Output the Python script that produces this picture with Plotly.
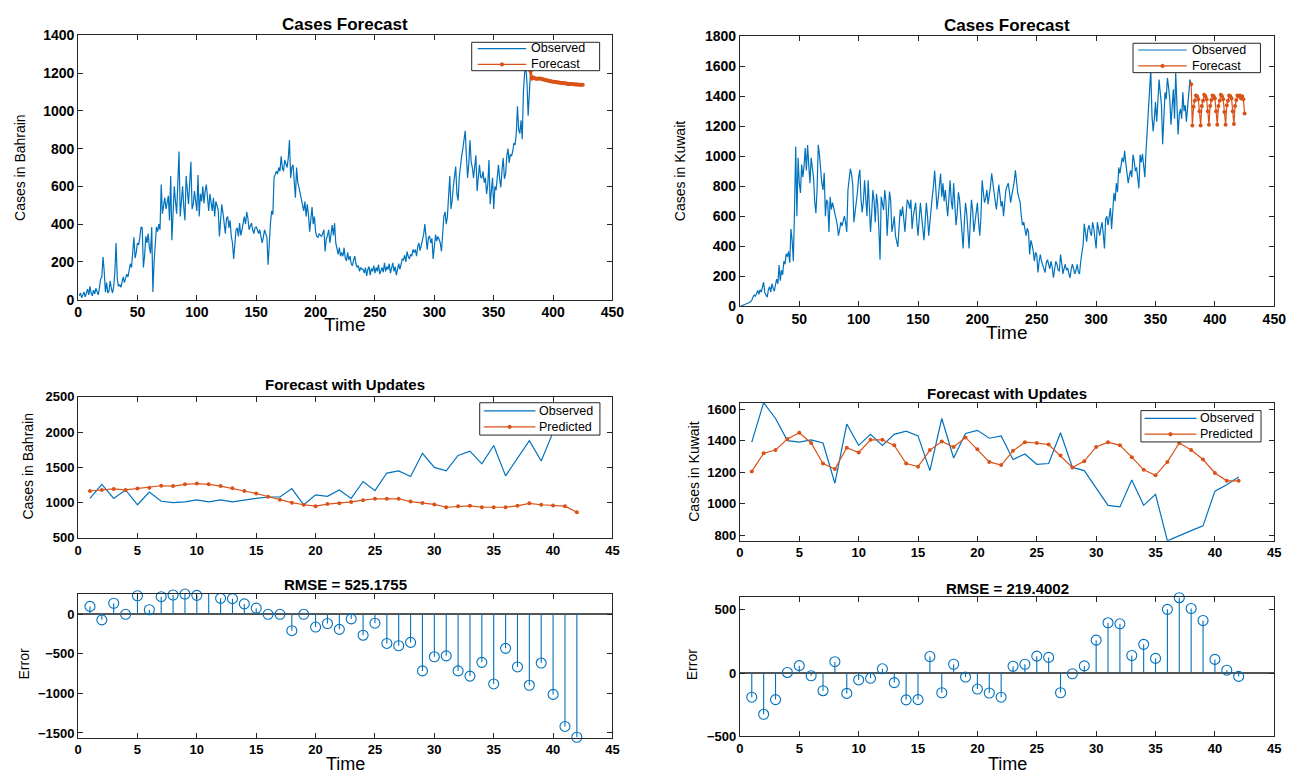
import plotly.graph_objects as go

# ---------------- data ----------------
bahrain_obs = [
    20, 35, 10, 25, 40, 15, 30, 55, 25, 70,
    35, 20, 50, 30, 60, 45, 25, 65, 110, 120,
    225, 150, 40, 90, 35, 45, 100, 60, 35, 70,
    150, 300, 110, 70, 80, 65, 100, 120, 90, 110,
    135, 120, 160, 190, 170, 265, 330, 220, 250, 300,
    290, 330, 385, 380, 170, 230, 335, 300, 350, 280,
    245, 385, 40, 200, 300, 385, 360, 400, 370, 610,
    455, 500, 540, 480, 520, 550, 420, 655, 315, 500,
    600, 520, 455, 620, 785, 440, 520, 600, 490, 420,
    655, 560, 505, 620, 730, 480, 505, 575, 520, 470,
    660, 440, 560, 520, 600, 510, 575, 610, 540, 470,
    560, 505, 470, 540, 440, 520, 500, 475, 335, 430,
    505, 460, 405, 350, 430, 440, 380, 420, 335, 300,
    215, 320, 370, 380, 335, 405, 340, 370, 420, 440,
    400, 465, 430, 370, 390, 405, 370, 350, 380, 385,
    370, 350, 370, 340, 300, 330, 370, 350, 330, 185,
    330, 405, 470, 450, 645, 660, 680, 665, 700, 680,
    760, 700, 680, 740, 725, 700, 750, 845, 645, 700,
    715, 620, 540, 700, 620, 595, 560, 540, 505, 470,
    520, 440, 505, 450, 360, 420, 490, 400, 440, 360,
    335, 330, 350, 340, 335, 350, 370, 255, 320, 340,
    370, 300, 360, 395, 340, 405, 300, 265, 240, 275,
    230, 250, 230, 275, 220, 205, 250, 210, 230, 190,
    180, 210, 230, 190, 170, 180, 150, 170, 160, 160,
    140, 170, 125, 160, 175, 130, 165, 150, 180, 140,
    170, 150, 185, 135, 160, 170, 145, 195, 150, 175,
    160, 190, 140, 175, 195, 150, 175, 130, 165, 190,
    160, 195, 215, 210, 235, 200, 255, 230, 215, 240,
    230, 265, 250, 265, 230, 280, 300, 260, 290, 320,
    345, 400, 315, 265, 330, 335, 300, 325, 215, 290,
    345, 310, 335, 320, 300, 255, 385, 440, 465, 400,
    440, 575, 655, 480, 525, 600, 655, 705, 560, 525,
    650, 730, 760, 800, 850, 895, 760, 645, 720, 845,
    730, 700, 645, 700, 765, 575, 640, 715, 650, 645,
    680, 620, 645, 560, 610, 740, 505, 600, 645, 480,
    600, 580, 650, 715, 640, 595, 690, 750, 640, 665,
    760, 800, 725, 770, 760, 785, 830, 820, 880, 1025,
    900, 880, 950, 850, 1100, 1200, 1235, 1150, 975, 1110, 1210,
]
bahrain_fc = [
    1210, 1170, 1178, 1175, 1172, 1170, 1170, 1172, 1172, 1170,
    1168, 1166, 1165, 1163, 1162, 1160, 1158, 1157, 1156, 1155,
    1154, 1153, 1152, 1151, 1150, 1149, 1148, 1147, 1146, 1146,
    1145, 1144, 1143, 1143, 1142, 1142, 1141, 1141, 1140, 1140,
    1140, 1139, 1139, 1139, 1138,
]
bahrain_fc_start = 381

kuwait_obs = [
    2, 5, 8, 10, 12, 15, 20, 25, 30, 40,
    60, 75, 65, 90, 105, 80, 110, 95, 125, 160,
    90, 75, 60, 110, 130, 95, 150, 120, 100, 145,
    180, 150, 275, 170, 240, 210, 300, 280, 350, 330,
    365, 290, 515, 440, 300, 645, 1065, 600, 990, 820,
    755, 945, 860, 930, 1055, 905, 1075, 940, 820, 990,
    900, 860, 700, 620, 775, 1075, 1010, 900, 820, 775,
    890, 600, 710, 690, 495, 730, 645, 690, 660, 620,
    580, 540, 470, 510, 560, 535, 570, 600, 560, 495,
    775, 850, 915, 880, 815, 560, 620, 690, 760, 860,
    910, 710, 625, 700, 840, 720, 600, 840, 650, 495,
    620, 775, 700, 560, 750, 680, 520, 310, 730, 680,
    640, 775, 700, 470, 620, 765, 700, 495, 540, 600,
    470, 440, 395, 520, 645, 600, 665, 580, 495, 620,
    710, 690, 650, 710, 515, 600, 640, 690, 560, 470,
    580, 690, 600, 520, 440, 560, 690, 600, 470, 560,
    680, 730, 800, 905, 780, 645, 720, 800, 885, 730,
    820, 700, 775, 680, 600, 720, 840, 700, 645, 820,
    700, 540, 620, 760, 710, 600, 470, 385, 560, 690,
    620, 520, 385, 560, 710, 640, 495, 560, 620, 690,
    560, 470, 600, 840, 760, 690, 720, 775, 680, 730,
    800, 885, 820, 730, 700, 645, 740, 810, 740, 665,
    700, 600, 690, 775, 800, 820, 760, 690, 740, 785,
    830, 905, 820, 755, 720, 690, 600, 540, 560, 500,
    470, 520, 495, 345, 440, 410, 370, 300, 360, 340,
    225, 300, 345, 300, 280, 250, 225, 290, 310, 280,
    250, 300, 260, 190, 250, 300, 280, 240, 235, 345,
    290, 215, 250, 280, 240, 255, 220, 190, 245, 280,
    250, 215, 240, 280, 230, 215, 300, 365, 410, 550,
    480, 430, 510, 540, 495, 470, 560, 520, 450, 385,
    560, 520, 470, 520, 560, 480, 385, 580, 600, 540,
    620, 655, 515, 640, 755, 700, 820, 760, 925, 885,
    950, 990, 960, 1035, 950, 900, 820, 870, 905, 860,
    1010, 970, 900, 925, 870, 785, 1010, 960, 1015, 930,
    860, 1035, 1165, 1360, 1450, 1575, 1270, 1165, 1250, 1360,
    1230, 1400, 1510, 1420, 1340, 1080, 1300, 1425, 1380, 1520,
    1460, 1380, 1210, 1350, 1445, 1250, 1555, 1350, 1145, 1280,
    1315, 1250, 1425, 1300, 1340, 1230, 1320, 1400, 1510, 1480,
]
kuwait_fc = [
    1480,
    1205, 1330, 1370, 1405, 1400, 1380, 1300,
    1205, 1335, 1370, 1410, 1400, 1380, 1300,
    1210, 1335, 1375, 1405, 1400, 1385, 1300,
    1210, 1335, 1370, 1410, 1400, 1380, 1295,
    1210, 1340, 1370, 1405, 1400, 1385, 1300,
    1215, 1335, 1375, 1405, 1400, 1405, 1385,
    1400, 1380, 1285,
]
kuwait_fc_start = 380

steps = list(range(1, 43))
bahrain_upd_obs = [1060, 1260, 1060, 1180, 970, 1150, 1020, 1000, 1010, 1040,
                   1010, 1040, 1010, 1040, 1060, 1080, 1080, 1200, 970, 1110,
                   1090, 1180, 1060, 1300, 1170, 1420, 1450, 1370, 1700, 1500,
                   1450, 1670, 1730, 1550, 1810, 1380, 1630, 1880, 1590, 2000,
                   2350, 2400]
bahrain_upd_pred = [1165, 1180, 1195, 1180, 1200, 1210, 1240, 1235, 1260, 1270,
                    1260, 1235, 1205, 1165, 1130, 1085, 1040, 1000, 970, 950,
                    980, 990, 1010, 1035, 1055, 1055, 1055, 1015, 995, 975,
                    935, 950, 955, 935, 935, 935, 955, 990, 970, 960,
                    950, 865]
bahrain_err = [100, -70, 140, 0, 235, 58, 223, 244, 256, 240,
               264, 202, 198, 132, 78, 0, 0, -207, 0, -161,
               -116, -190, -58, -264, -112, -368, -397, -355, -715, -537,
               -525, -715, -781, -607, -880, -430, -665, -897, -616, -1012,
               -1417, -1554]

kuwait_upd_obs = [1390, 1640, 1540, 1400, 1390, 1405, 1385, 1130, 1505, 1370,
                  1440, 1370, 1440, 1460, 1430, 1210, 1540, 1290, 1445, 1465,
                  1415, 1430, 1280, 1315, 1250, 1255, 1450, 1230, 1210, 1100,
                  990, 980, 1150, 990, 1060, 765, 800, 830, 860, 1080,
                  1120, 1170]
kuwait_upd_pred = [1205, 1320, 1340, 1410, 1450, 1385, 1255, 1220, 1355, 1325,
                   1405, 1405, 1370, 1255, 1235, 1340, 1395, 1360, 1420, 1345,
                   1265, 1245, 1335, 1390, 1385, 1375, 1305, 1230, 1270, 1360,
                   1390, 1370, 1295, 1215, 1180, 1265, 1385, 1340, 1280, 1195,
                   1145, 1145]
kuwait_err = [-190, -325, -209, 5, 59, -21, -139, 90, -160, -54,
              -41, 34, -75, -211, -209, 131, -155, 70, -31, -126,
              -157, -190, 54, 70, 134, 124, -155, -5, 57, 260,
              397, 389, 139, 227, 116, 503, 595, 510, 415, 108,
              23, -26]

rmse_bahrain = "525.1755"
rmse_kuwait = "219.4002"

# ---------------- layout helpers ----------------
W, H = 1309, 781


def X(px):
    return px / W


def Y(py):
    return 1 - py / H


BLUE = '#0072BD'
ORANGE = '#D95319'
AXC = '#262626'
FONT = 'Liberation Sans, Arial, Helvetica, sans-serif'

fig = go.Figure()

# top-left
fig.add_trace(go.Scatter(x=list(range(1, len(bahrain_obs) + 1)), y=bahrain_obs,
                         mode='lines', line=dict(color=BLUE, width=1.2),
                         name='Observed', xaxis='x', yaxis='y'))
fig.add_trace(go.Scatter(x=list(range(bahrain_fc_start, bahrain_fc_start + len(bahrain_fc))), y=bahrain_fc,
                         mode='lines+markers', line=dict(color=ORANGE, width=2.6),
                         marker=dict(size=4, color=ORANGE),
                         name='Forecast', xaxis='x', yaxis='y'))
# top-right
fig.add_trace(go.Scatter(x=list(range(1, len(kuwait_obs) + 1)), y=kuwait_obs,
                         mode='lines', line=dict(color=BLUE, width=1.2),
                         name='Observed', xaxis='x2', yaxis='y2'))
fig.add_trace(go.Scatter(x=list(range(kuwait_fc_start, kuwait_fc_start + len(kuwait_fc))), y=kuwait_fc,
                         mode='lines+markers', line=dict(color=ORANGE, width=1.2),
                         marker=dict(size=4, color=ORANGE),
                         name='Forecast', xaxis='x2', yaxis='y2'))
# middle-left
fig.add_trace(go.Scatter(x=steps, y=bahrain_upd_obs, mode='lines',
                         line=dict(color=BLUE, width=1.2), name='Observed',
                         xaxis='x3', yaxis='y3'))
fig.add_trace(go.Scatter(x=steps, y=bahrain_upd_pred, mode='lines+markers',
                         line=dict(color=ORANGE, width=1.2),
                         marker=dict(size=4, color=ORANGE), name='Predicted',
                         xaxis='x3', yaxis='y3'))
# middle-right
fig.add_trace(go.Scatter(x=steps, y=kuwait_upd_obs, mode='lines',
                         line=dict(color=BLUE, width=1.2), name='Observed',
                         xaxis='x4', yaxis='y4'))
fig.add_trace(go.Scatter(x=steps, y=kuwait_upd_pred, mode='lines+markers',
                         line=dict(color=ORANGE, width=1.2),
                         marker=dict(size=4, color=ORANGE), name='Predicted',
                         xaxis='x4', yaxis='y4'))


def stem(err, xa, ya):
    sx, sy = [], []
    for t, e in zip(steps, err):
        sx += [t, t, None]
        sy += [0, e, None]
    fig.add_trace(go.Scatter(x=sx, y=sy, mode='lines',
                             line=dict(color=BLUE, width=1.1),
                             xaxis=xa, yaxis=ya, hoverinfo='skip', name='Error'))
    fig.add_trace(go.Scatter(x=steps, y=err, mode='markers',
                             marker=dict(symbol='circle-open', size=10,
                                         color=BLUE, line=dict(width=1.1)),
                             cliponaxis=False, xaxis=xa, yaxis=ya, name='Error'))


stem(bahrain_err, 'x5', 'y5')
stem(kuwait_err, 'x6', 'y6')


def xaxis(dom, rng, dtick, anchor, fs):
    return dict(domain=dom, range=rng, dtick=dtick, tick0=0, anchor=anchor,
                showline=True, linecolor=AXC, linewidth=1, mirror='ticks',
                ticks='inside', ticklen=5, tickcolor=AXC, showgrid=False,
                zeroline=False,
                tickfont=dict(family=FONT, size=fs, color='black', weight='bold'))


def yaxis(dom, rng, dtick, anchor, fs, zl=False):
    return dict(domain=dom, range=rng, dtick=dtick, tick0=0, anchor=anchor,
                showline=True, linecolor=AXC, linewidth=1, mirror='ticks',
                ticks='inside', ticklen=5, tickcolor=AXC, showgrid=False,
                zeroline=zl, zerolinecolor='#555555', zerolinewidth=1.5,
                tickfont=dict(family=FONT, size=fs, color='black', weight='bold'))


LX = [X(75), X(616)]
RX = [X(745), X(1286)]

layout = dict(
    width=W, height=H, margin=dict(l=0, r=0, t=0, b=0),
    paper_bgcolor='white', plot_bgcolor='white', showlegend=False,
    font=dict(family=FONT, color='black'),
    xaxis=xaxis(LX, [0, 450], 50, 'y', 14),
    yaxis=yaxis([Y(297.7), Y(28)], [0, 1400], 200, 'x', 14),
    xaxis2=xaxis(RX, [0, 450], 50, 'y2', 14),
    yaxis2=yaxis([Y(304.5), Y(28.7)], [0, 1800], 200, 'x2', 14),
    xaxis3=xaxis(LX, [0, 45], 5, 'y3', 13),
    yaxis3=yaxis([Y(541), Y(397)], [500, 2500], 500, 'x3', 13),
    xaxis4=xaxis(RX, [0, 45], 5, 'y4', 13),
    yaxis4=yaxis([Y(544), Y(403.3)], [765, 1638], 200, 'x4', 13),
    xaxis5=xaxis(LX, [0, 45], 5, 'y5', 13),
    yaxis5=yaxis([Y(745), Y(598)], [-1560, 260], 500, 'x5', 13, zl=True),
    xaxis6=xaxis(RX, [0, 45], 5, 'y6', 13),
    yaxis6=yaxis([Y(743.7), Y(601.4)], [-500, 600], 500, 'x6', 13, zl=True),
)

annotations = []
shapes = []


def text(s, x, y, size, bold=False, angle=0, xanchor='center'):
    annotations.append(dict(text=('<b>%s</b>' % s) if bold else s,
                            x=X(x), y=Y(y), xref='paper', yref='paper',
                            xanchor=xanchor, yanchor='middle', showarrow=False,
                            textangle=angle, align='left',
                            font=dict(family=FONT, size=size, color='black')))


# titles
text('Cases Forecast', 345.5, 17, 17, bold=True)
text('Cases Forecast', 1015.5, 17.5, 17, bold=True)
text('Forecast with Updates', 345.5, 384, 15, bold=True)
text('Forecast with Updates', 1015.5, 394, 15, bold=True)
text('RMSE = ' + rmse_bahrain, 345.5, 589, 15, bold=True)
text('RMSE = ' + rmse_kuwait, 1015.5, 593, 15, bold=True)
# axis labels
text('Time', 345.5, 323, 19)
text('Time', 1015.5, 331.5, 19)
text('Time', 345.5, 772, 18)
text('Time', 1015.5, 772, 18)
text('Cases in Bahrain', 15.5, 163, 14, angle=-90)
text('Cases in Kuwait', 684, 167, 14, angle=-90)
text('Cases in Bahrain', 24.5, 468, 14, angle=-90)
text('Cases in Kuwait', 699, 473, 14, angle=-90)
text('Error', 20.5, 670, 14, angle=-90)
text('Error', 696.5, 670, 14, angle=-90)


def legend(box, labels, line_x, text_x, fs):
    top, bot = box[2], box[3]
    mid = (top + bot) / 2
    gap = 1.3 * fs
    rows = (mid - gap / 2, mid + gap / 2)
    shapes.append(dict(type='rect', xref='paper', yref='paper',
                       x0=X(box[0]), x1=X(box[1]), y0=Y(bot), y1=Y(top),
                       line=dict(color=AXC, width=1), fillcolor='white', layer='above'))
    for ry, col, mk in zip(rows, (BLUE, ORANGE), (False, True)):
        shapes.append(dict(type='line', xref='paper', yref='paper',
                           x0=X(line_x[0]), x1=X(line_x[1]), y0=Y(ry), y1=Y(ry),
                           line=dict(color=col, width=1.2), layer='above'))
        if mk:
            cx = (line_x[0] + line_x[1]) / 2
            shapes.append(dict(type='circle', xref='paper', yref='paper',
                               x0=X(cx - 1.7), x1=X(cx + 1.7), y0=Y(ry + 1.7), y1=Y(ry - 1.7),
                               line=dict(color=col, width=1), fillcolor=col, layer='above'))
    text('<br>'.join(labels), text_x, mid, fs, xanchor='left')


legend((473.5, 603, 35, 64), ('Observed', 'Forecast'), (479.6, 528.6), 531.5, 12.5)
legend((1143, 1272, 36, 66), ('Observed', 'Forecast'), (1148.4, 1197.3), 1201, 12.5)
legend((481.6, 603.3, 403, 436), ('Observed', 'Predicted'), (485.7, 538), 540, 12.5)
legend((1151, 1272.6, 411, 443), ('Observed', 'Predicted'), (1154.6, 1207.2), 1209, 12.5)

layout['annotations'] = annotations
layout['shapes'] = shapes
fig.update_layout(**layout)

fig.write_html("out.html", config={'displayModeBar': False},
               post_script="document.body.style.margin='0px';")
